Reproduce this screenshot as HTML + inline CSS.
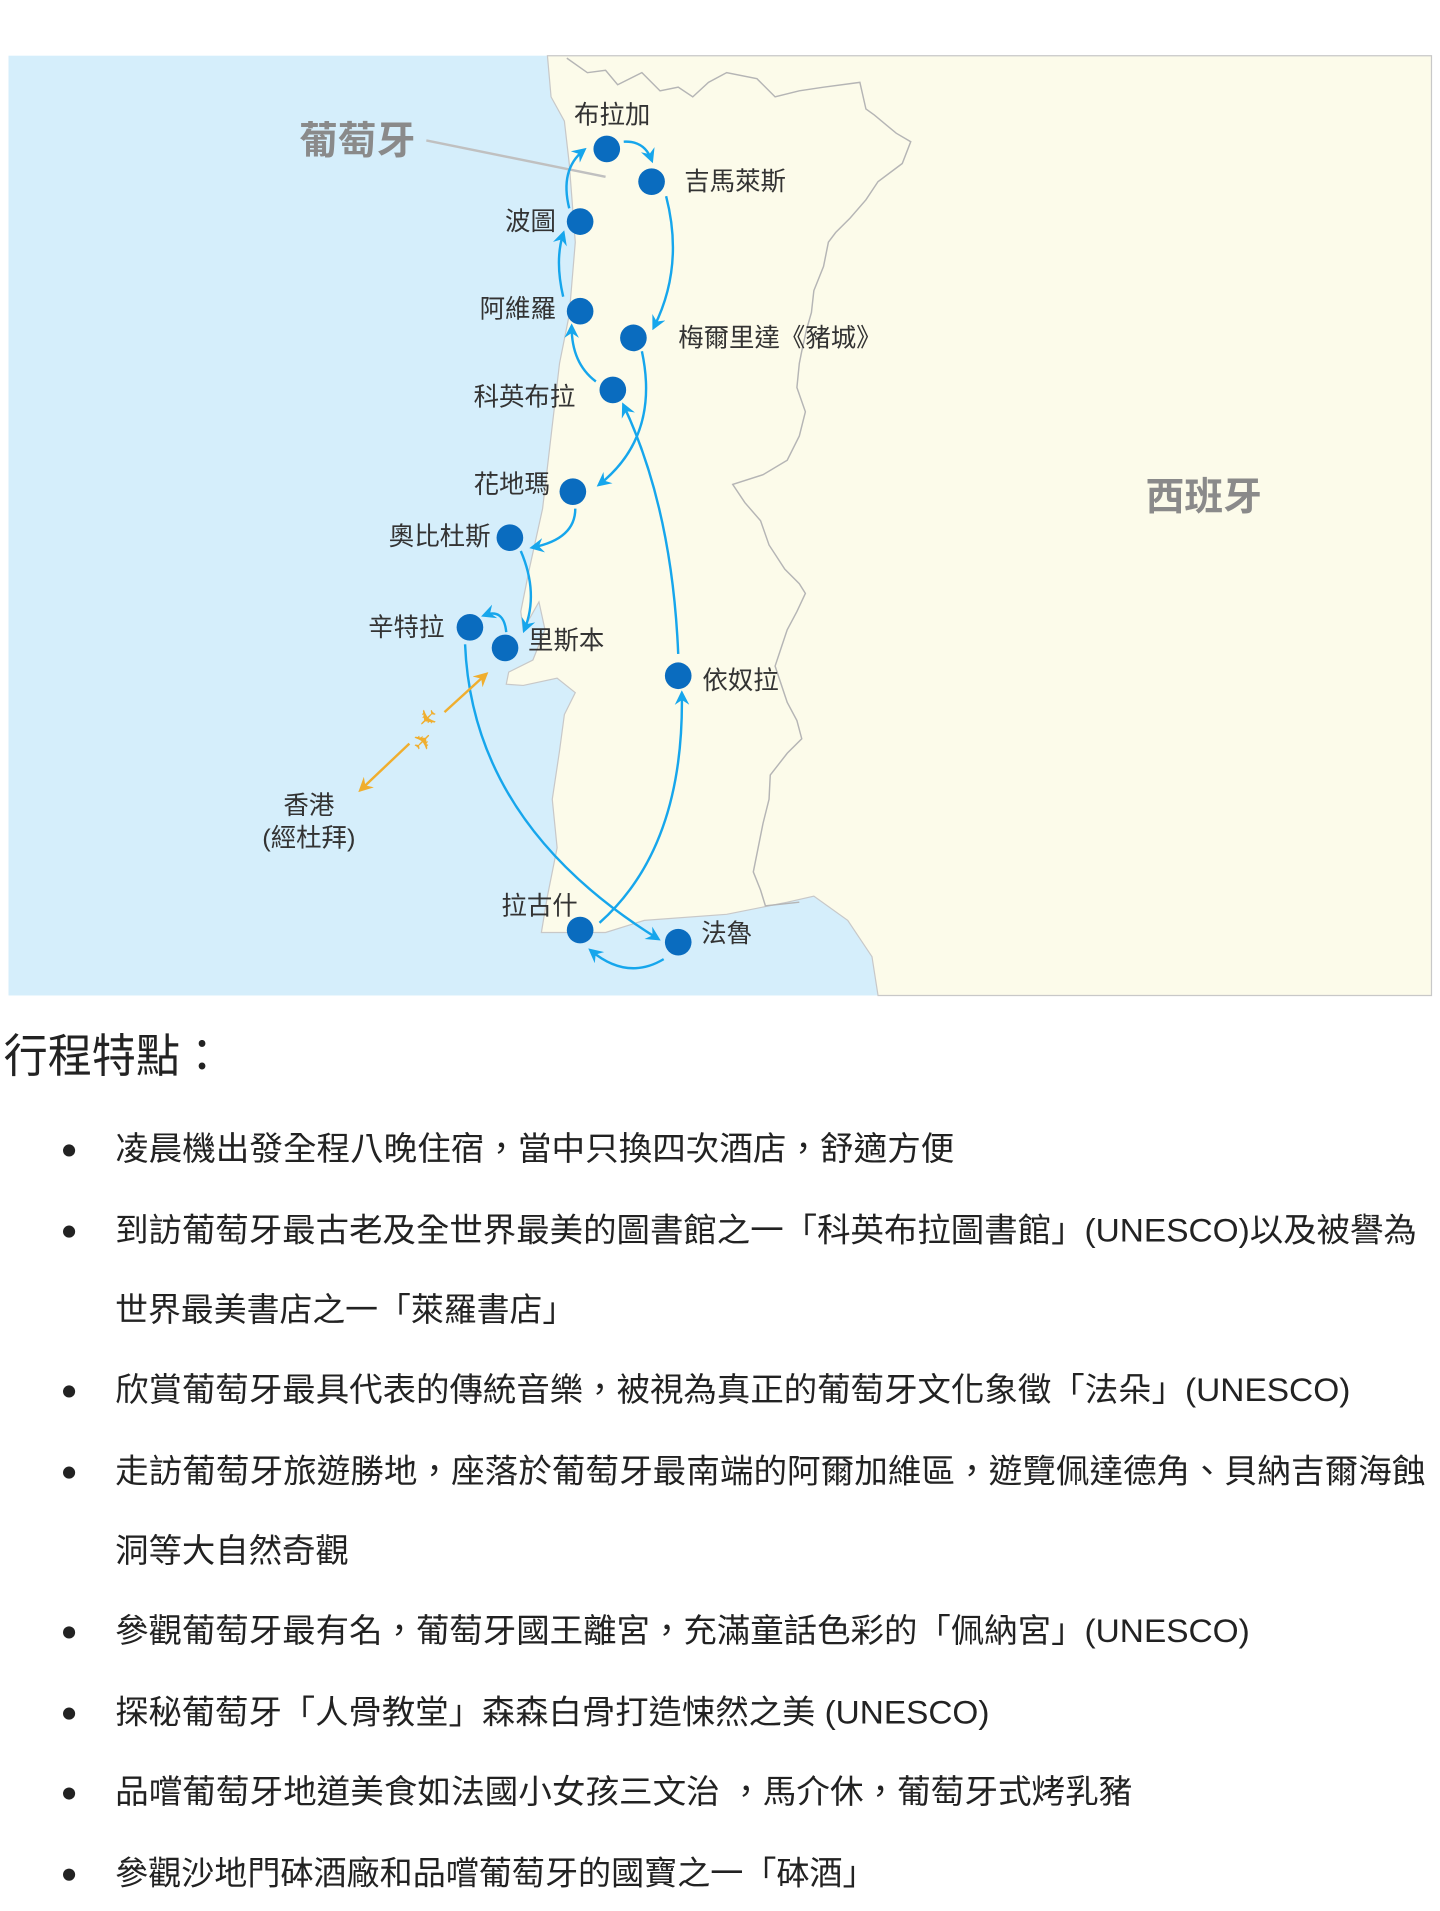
<!DOCTYPE html>
<html><head><meta charset="utf-8"><style>
html,body{margin:0;padding:0;background:#fff;width:1440px;height:1911px;overflow:hidden}
svg{display:block}
text{font-family:"Liberation Sans","Noto Sans CJK TC",sans-serif}
</style></head><body>
<svg width="1440" height="1911" viewBox="0 0 1189 1578" xmlns="http://www.w3.org/2000/svg">
<defs>
<marker id="a" markerWidth="12" markerHeight="12" refX="9" refY="6" orient="auto" markerUnits="userSpaceOnUse"><path d="M0,0 L12,6 L0,12 L4,6 Z" fill="#16a6ec"/></marker>
<marker id="o" markerWidth="12" markerHeight="12" refX="9" refY="6" orient="auto" markerUnits="userSpaceOnUse"><path d="M0,0 L12,6 L0,12 L4,6 Z" fill="#f0ae2e"/></marker>
</defs>
<rect x="7" y="46" width="1175" height="776" fill="#d5eefb"/>
<path d="M452,46 L455,80 L466,100 L470,135 L475,200 L470,260 L462,300 L455,360 L448,420 L437,470 L430,505 L432,520 L445,497 L450,520 L440,545 L420,555 L418,565 L432,566 L460,560 L475,572 L466,590 L462,620 L456,660 L460,700 L452,740 L447,770 L462,770 L500,770 L532,760 L600,755 L650,745 L672,740 L700,760 L720,790 L725,822 L1182,822 L1182,46 Z" fill="#fcfbea" stroke="#c8c8c8" stroke-width="1"/>
<path d="M468,48 L485,60 L500,58 L510,70 L530,60 L545,75 L560,72 L572,80 L585,68 L600,60 L625,65 L640,80 L660,75 L680,72 L710,68 L715,90 L722,95 L740,110 L752,117 L745,135 L725,150 L715,165 L702,180 L690,192 L684,200 L680,220 L672,240 L670,258 L666,272 L662,290 L660,300 L658,320 L665,340 L660,360 L650,380 L630,392 L605,400 L615,415 L628,430 L635,450 L648,470 L660,482 L665,490 L658,505 L650,520 L645,535 L640,550 L645,565 L650,580 L658,595 L662,610 L650,622 L636,640 L635,660 L630,680 L626,700 L622,720 L628,735 L632,748 L660,745" fill="none" stroke="#b5b5b5" stroke-width="1.2"/>
<line x1="352" y1="116" x2="500" y2="146" stroke="#c0c0c0" stroke-width="2"/>
<g fill="none" stroke="#16a6ec" stroke-width="2">
<path d="M515,117 Q532,116 538,132" marker-end="url(#a)"/>
<path d="M470,172 Q462,140 482,124" marker-end="url(#a)"/>
<path d="M465,245 Q458,215 465,193" marker-end="url(#a)"/>
<path d="M550,162 Q565,220 540,270" marker-end="url(#a)"/>
<path d="M492,315 Q472,300 472,270" marker-end="url(#a)"/>
<path d="M530,290 Q545,360 495,400" marker-end="url(#a)"/>
<path d="M475,420 Q475,445 440,452" marker-end="url(#a)"/>
<path d="M430,455 Q445,490 433,520" marker-end="url(#a)"/>
<path d="M418,522 Q416,502 400,508" marker-end="url(#a)"/>
<path d="M384,532 Q390,680 543,775" marker-end="url(#a)"/>
<path d="M548,792 Q518,810 488,785" marker-end="url(#a)"/>
<path d="M495,762 Q565,700 563,573" marker-end="url(#a)"/>
<path d="M560,540 Q555,420 515,335" marker-end="url(#a)"/>
</g>
<g stroke="#f0ae2e" stroke-width="2">
<line x1="367" y1="588" x2="401" y2="557" marker-end="url(#o)"/>
<line x1="338" y1="614" x2="298" y2="652" marker-end="url(#o)"/>
</g>
<text x="352" y="598" font-size="20" fill="#f0ae2e" text-anchor="middle" transform="rotate(135 352 592)">✈</text>
<text x="350" y="619" font-size="20" fill="#f0ae2e" text-anchor="middle" transform="rotate(-45 350 613)">✈</text>
<g fill="#0a6cbf">
<circle cx="501" cy="123" r="11"/><circle cx="538" cy="150" r="11"/><circle cx="479" cy="183" r="11"/>
<circle cx="479" cy="257" r="11"/><circle cx="523" cy="279" r="11"/><circle cx="506" cy="322" r="11"/>
<circle cx="473" cy="406" r="11"/><circle cx="421" cy="444" r="11"/><circle cx="388" cy="518" r="11"/>
<circle cx="417" cy="535" r="11"/><circle cx="560" cy="558" r="11"/><circle cx="479" cy="768" r="11"/>
<circle cx="560" cy="778" r="11"/>
</g>
<g font-size="21" fill="#333">
<text x="474" y="102">布拉加</text>
<text x="565" y="157">吉馬萊斯</text>
<text x="459" y="190" text-anchor="end">波圖</text>
<text x="459" y="262" text-anchor="end">阿維羅</text>
<text x="560" y="286">梅爾里達《豬城》</text>
<text x="475" y="335" text-anchor="end">科英布拉</text>
<text x="454" y="407" text-anchor="end">花地瑪</text>
<text x="405" y="450" text-anchor="end">奧比杜斯</text>
<text x="367" y="525" text-anchor="end">辛特拉</text>
<text x="436" y="536">里斯本</text>
<text x="580" y="569">依奴拉</text>
<text x="414" y="755">拉古什</text>
<text x="579" y="778">法魯</text>
<text x="255" y="672" text-anchor="middle">香港</text>
<text x="255" y="699" text-anchor="middle">(經杜拜)</text>
</g>
<text x="247" y="127" font-size="32" font-weight="bold" fill="#8a8a8a">葡萄牙</text>
<text x="946" y="421" font-size="32" font-weight="bold" fill="#8a8a8a">西班牙</text>
<text x="3" y="885" font-size="38" fill="#222" textLength="182" lengthAdjust="spacingAndGlyphs">行程特點：</text>
<g font-size="27" fill="#222" lengthAdjust="spacingAndGlyphs">
<circle cx="57" cy="950" r="5"/><text x="95" y="958" textLength="693" lengthAdjust="spacingAndGlyphs">凌晨機出發全程八晚住宿，當中只換四次酒店，舒適方便</text>
<circle cx="57" cy="1017" r="5"/><text x="95" y="1025" textLength="1075" lengthAdjust="spacingAndGlyphs">到訪葡萄牙最古老及全世界最美的圖書館之一「科英布拉圖書館」(UNESCO)以及被譽為</text>
<text x="95" y="1091" textLength="380" lengthAdjust="spacingAndGlyphs">世界最美書店之一「萊羅書店」</text>
<circle cx="57" cy="1149" r="5"/><text x="95" y="1157" textLength="1020" lengthAdjust="spacingAndGlyphs">欣賞葡萄牙最具代表的傳統音樂，被視為真正的葡萄牙文化象徵「法朵」(UNESCO)</text>
<circle cx="57" cy="1216" r="5"/><text x="95" y="1224" textLength="1082" lengthAdjust="spacingAndGlyphs">走訪葡萄牙旅遊勝地，座落於葡萄牙最南端的阿爾加維區，遊覽佩達德角、貝納吉爾海蝕</text>
<text x="95" y="1290" textLength="193" lengthAdjust="spacingAndGlyphs">洞等大自然奇觀</text>
<circle cx="57" cy="1348" r="5"/><text x="95" y="1356" textLength="937" lengthAdjust="spacingAndGlyphs">參觀葡萄牙最有名，葡萄牙國王離宮，充滿童話色彩的「佩納宮」(UNESCO)</text>
<circle cx="57" cy="1415" r="5"/><text x="95" y="1423" textLength="722" lengthAdjust="spacingAndGlyphs">探秘葡萄牙「人骨教堂」森森白骨打造悚然之美 (UNESCO)</text>
<circle cx="57" cy="1481" r="5"/><text x="95" y="1489" textLength="840" lengthAdjust="spacingAndGlyphs">品嚐葡萄牙地道美食如法國小女孩三文治 ，馬介休，葡萄牙式烤乳豬</text>
<circle cx="57" cy="1548" r="5"/><text x="95" y="1556" textLength="628" lengthAdjust="spacingAndGlyphs">參觀沙地門砵酒廠和品嚐葡萄牙的國寶之一「砵酒」</text>
</g>
</svg>
</body></html>
